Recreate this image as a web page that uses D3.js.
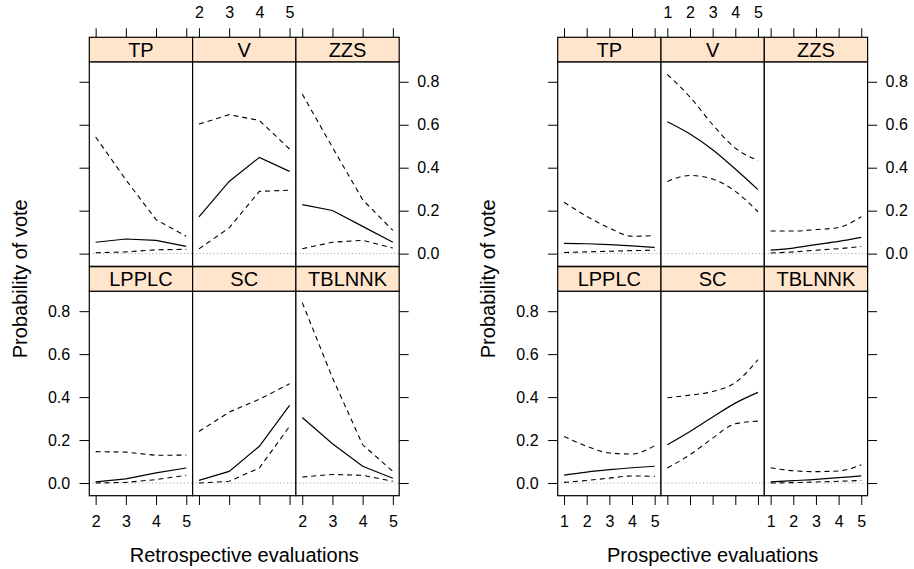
<!DOCTYPE html>
<html>
<head>
<meta charset="UTF-8">
<script src="https://d3js.org/d3.v7.min.js"></script>
<style>
  body { margin: 0; background: #fff; }
  svg { display: block; font-family: "Liberation Sans", Arial, sans-serif; }
  .tick text { font-size: 16px; fill: #000; }
  .tick line { stroke: #000; }
</style>
</head>
<body>
<svg width="914" height="569"></svg>
<script>
// panel order: top row TP, V, ZZS; bottom row LPPLC, SC, TBLNNK
const parties = ["TP", "V", "ZZS", "LPPLC", "SC", "TBLNNK"];
const yTicks = [0, 0.2, 0.4, 0.6, 0.8];

// retrospective evaluations
const retroX = [2, 3, 4, 5];
const retroFit = [
  [0.053, 0.068, 0.062, 0.034],
  [0.171, 0.336, 0.448, 0.383],
  [0.228, 0.201, 0.127, 0.053],
  [0.005, 0.019, 0.047, 0.070],
  [0.012, 0.054, 0.171, 0.361],
  [0.305, 0.183, 0.078, 0.022]
];
const retroLower = [
  [0.004, 0.008, 0.018, 0.020],
  [0.022, 0.120, 0.290, 0.295],
  [0.023, 0.053, 0.062, 0.026],
  [0.000, 0.003, 0.016, 0.036],
  [0.000, 0.008, 0.070, 0.264],
  [0.028, 0.040, 0.036, 0.008]
];
const retroUpper = [
  [0.543, 0.344, 0.158, 0.081],
  [0.603, 0.647, 0.620, 0.487],
  [0.743, 0.495, 0.251, 0.108],
  [0.146, 0.144, 0.129, 0.130],
  [0.240, 0.330, 0.390, 0.462],
  [0.840, 0.490, 0.178, 0.054]
];

// prospective evaluations
const prosX = [1, 2, 3, 4, 5];
const prosFit = [
  [0.048, 0.046, 0.042, 0.036, 0.029],
  [0.614, 0.557, 0.484, 0.394, 0.298],
  [0.016, 0.026, 0.042, 0.057, 0.076],
  [0.037, 0.051, 0.062, 0.071, 0.078],
  [0.178, 0.240, 0.307, 0.372, 0.422],
  [0.005, 0.011, 0.017, 0.025, 0.033]
];
const prosLower = [
  [0.005, 0.008, 0.011, 0.014, 0.016],
  [0.336, 0.364, 0.347, 0.290, 0.195],
  [0.003, 0.008, 0.016, 0.023, 0.033],
  [0.003, 0.012, 0.023, 0.033, 0.031],
  [0.070, 0.132, 0.209, 0.276, 0.288],
  [0.000, 0.002, 0.005, 0.008, 0.012]
];
const prosUpper = [
  [0.239, 0.174, 0.119, 0.081, 0.084],
  [0.834, 0.729, 0.600, 0.491, 0.434],
  [0.105, 0.105, 0.112, 0.122, 0.172],
  [0.217, 0.171, 0.140, 0.135, 0.174],
  [0.397, 0.409, 0.426, 0.468, 0.574],
  [0.071, 0.057, 0.053, 0.056, 0.085]
];

const svg = d3.select("svg");

// shared layout
const stripTop = [37.3, 266.7];
const stripH = 24.5;
const bodyH = 204.5;
const panelW = 103.3;
const yDomain = [-0.059, 0.893];

function drawLattice(o) {
  const g = svg.append("g");
  const line = d3.line()
    .x((d, i) => o.xs[i])
    .y(d => d)
    .curve(o.curve);

  const yScales = stripTop.map(t =>
    d3.scaleLinear().domain(yDomain).range([t + stripH + bodyH, t + stripH]));
  const xScales = o.colLeft.map(l =>
    d3.scaleLinear().domain(o.xDomain).range([l, l + panelW]));

  parties.forEach((p, i) => {
    const row = i < 3 ? 0 : 1, col = i % 3;
    const x = xScales[col], y = yScales[row];
    const top = stripTop[row] + stripH;
    const pg = g.append("g");

    pg.append("rect")
      .attr("x", o.colLeft[col]).attr("y", top)
      .attr("width", panelW).attr("height", bodyH)
      .attr("fill", "#fff");

    // reference line at zero
    pg.append("line")
      .attr("x1", o.colLeft[col]).attr("x2", o.colLeft[col] + panelW)
      .attr("y1", y(0)).attr("y2", y(0))
      .attr("stroke", "#999").attr("stroke-width", 1)
      .attr("stroke-dasharray", "1,2.5");

    const mk = (vals) => d3.line()
      .x((d, k) => x(o.xs[k]))
      .y(d => y(d))
      .curve(o.curve)(vals);

    [o.lower[i], o.upper[i]].forEach(v => {
      pg.append("path").attr("d", mk(v))
        .attr("fill", "none").attr("stroke", "#000")
        .attr("stroke-width", 1.1).attr("stroke-dasharray", "5,4");
    });
    pg.append("path").attr("d", mk(o.fit[i]))
      .attr("fill", "none").attr("stroke", "#000").attr("stroke-width", 1.2);

    pg.append("rect")
      .attr("x", o.colLeft[col]).attr("y", top)
      .attr("width", panelW).attr("height", bodyH)
      .attr("fill", "none").attr("stroke", "#000").attr("stroke-width", 1.2);

    // strip
    pg.append("rect")
      .attr("x", o.colLeft[col]).attr("y", stripTop[row])
      .attr("width", panelW).attr("height", stripH)
      .attr("fill", "#ffe5cc").attr("stroke", "#000").attr("stroke-width", 1.2);
    pg.append("text")
      .attr("x", o.colLeft[col] + panelW / 2)
      .attr("y", stripTop[row] + stripH / 2)
      .attr("dy", "0.36em")
      .attr("text-anchor", "middle")
      .style("font-size", "20px")
      .text(p);
  });

  const noDomain = s => s.select(".domain").remove();
  const intFmt = d3.format("d");
  const yFmt = d3.format(".1f");

  // x axes, top and bottom
  xScales.forEach((x, col) => {
    g.append("g")
      .attr("transform", `translate(0,${stripTop[0]})`)
      .call(d3.axisTop(x).tickValues(o.xs).tickSize(9).tickPadding(10)
        .tickFormat(col === 1 ? intFmt : ""))
      .call(noDomain);
    g.append("g")
      .attr("transform", `translate(0,${stripTop[1] + stripH + bodyH})`)
      .call(d3.axisBottom(x).tickValues(o.xs).tickSize(9.3).tickPadding(11)
        .tickFormat(col !== 1 ? intFmt : ""))
      .call(noDomain);
  });

  // y axes, left and right
  const right = o.colLeft[2] + panelW;
  yScales.forEach((y, row) => {
    g.append("g")
      .attr("transform", `translate(${o.colLeft[0]},0)`)
      .call(d3.axisLeft(y).tickValues(yTicks).tickSize(9.8).tickPadding(9.3)
        .tickFormat(row === 1 ? yFmt : ""))
      .call(noDomain);
    g.append("g")
      .attr("transform", `translate(${right},0)`)
      .call(d3.axisRight(y).tickValues(yTicks).tickSize(9.5).tickPadding(8.5)
        .tickFormat(row === 0 ? yFmt : ""))
      .call(noDomain);
  });

  g.selectAll(".tick text").style("font-family", "'Liberation Sans', Arial, sans-serif");

  // titles
  g.append("text")
    .attr("x", (o.colLeft[0] + right) / 2).attr("y", 555)
    .attr("dy", "0.35em").attr("text-anchor", "middle")
    .style("font-size", "20px")
    .text(o.xTitle);
  const midY = (stripTop[0] + stripH + stripTop[1] + stripH + bodyH) / 2;
  g.append("text")
    .attr("transform", `translate(${o.colLeft[0] - 69.3},${midY}) rotate(-90)`)
    .attr("dy", "0.35em").attr("text-anchor", "middle")
    .style("font-size", "20px")
    .text("Probability of vote");
}

drawLattice({
  xs: retroX, fit: retroFit, lower: retroLower, upper: retroUpper,
  colLeft: [89.3, 192.6, 295.9],
  xDomain: [1.79, 5.21],
  curve: d3.curveLinear,
  xTitle: "Retrospective evaluations"
});

drawLattice({
  xs: prosX, fit: prosFit, lower: prosLower, upper: prosUpper,
  colLeft: [557.7, 661.0, 764.3],
  xDomain: [0.72, 5.28],
  curve: d3.curveMonotoneX,
  xTitle: "Prospective evaluations"
});
</script>
</body>
</html>
